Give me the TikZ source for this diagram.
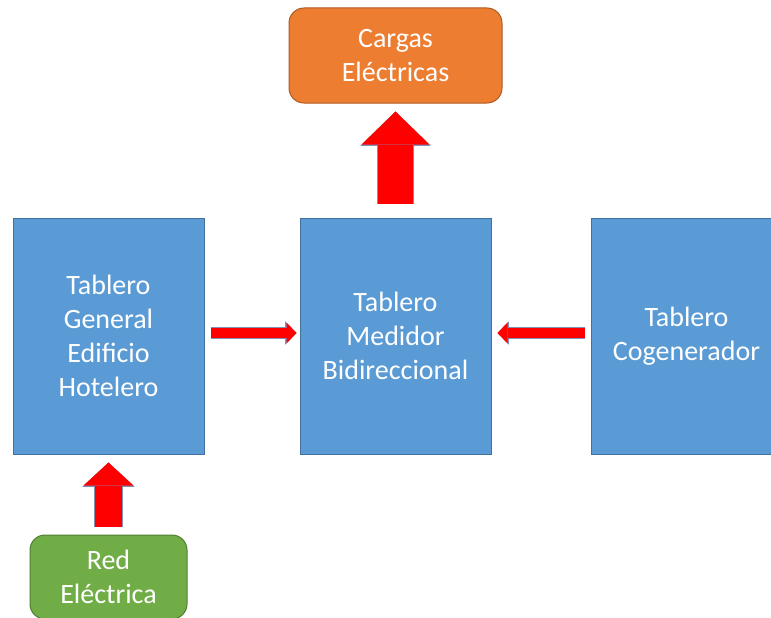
\documentclass[tikz,border=0pt]{standalone}
\usepackage{fontspec}
\setmainfont{Carlito}
\usetikzlibrary{arrows.meta}

\definecolor{azul}{HTML}{5B9BD5}
\definecolor{azulborde}{HTML}{41719C}
\definecolor{naranja}{HTML}{ED7D31}
\definecolor{naranjaborde}{HTML}{AE5A21}
\definecolor{verde}{HTML}{70AD47}
\definecolor{verdeborde}{HTML}{507E32}
\definecolor{flechaborde}{HTML}{7F8FB5}

\tikzset{
  flecha/.code n args={3}{%
    \pgfmathsetlengthmacro\flechaA{#1+1.4pt}%
    \pgfmathsetlengthmacro\flechaB{#2+2.4pt}%
    \pgfmathsetlengthmacro\flechaC{#3+1.4pt}%
    \pgfkeysalso{preaction={draw=flechaborde, line width=\flechaA,
        -{Triangle[length=\flechaC, width=\flechaB, line width=0pt]}},
      draw=red, line width=#1,
      -{Triangle[length=#3, width=#2, line width=0pt]}}}
}

\begin{document}
\begin{tikzpicture}[x=1pt,y=-1pt]
        \useasboundingbox (0,0) rectangle (771,618);

        \begin{scope}[every node/.style={draw=azulborde, fill=azul, text=white, line width=1pt,
            minimum width=191pt, minimum height=236pt, inner sep=0pt, align=center,
            font=\fontsize{28}{34}\selectfont}]
          \node (1) at (108.5,336) {Tablero\\General\\Edificio\\Hotelero};
          \node (2) at (395.5,336) {Tablero\\Medidor\\Bidireccional};
          \node (3) at (686.5,336) {Tablero\\Cogenerador};
        \end{scope}

        \begin{scope}[every node/.style={rounded corners=15pt, text=white, line width=1pt,
            inner sep=0pt, align=center, font=\fontsize{28}{34}\selectfont}]
          \node[fill=naranja, draw=naranjaborde, minimum width=213pt, minimum height=95pt]
            (4) at (395.5,55.5) {Cargas\\Eléctricas};
          \node[fill=verde, draw=verdeborde, minimum width=157pt, minimum height=84pt]
            (5) at (108.5,577) {Red\\Eléctrica};
        \end{scope}

        \begin{scope}[every edge/.style={draw}]
          \path ([yshift=3pt]1.east) edge[flecha={10pt}{21pt}{10pt}, shorten <=6pt, shorten >=3pt] ([yshift=3pt]2.west);
          \path ([yshift=3pt]3.west) edge[flecha={10pt}{21pt}{10pt}, shorten <=6pt, shorten >=6pt] ([yshift=3pt]2.east);
          \path (2.north) edge[flecha={35pt}{68pt}{33pt}, shorten <=14pt, shorten >=8pt] (4.south);
          \path (5.north) edge[flecha={27pt}{50pt}{23pt}, shorten <=8pt, shorten >=8pt] (1.south);
        \end{scope}

      \end{tikzpicture}
\end{document}
